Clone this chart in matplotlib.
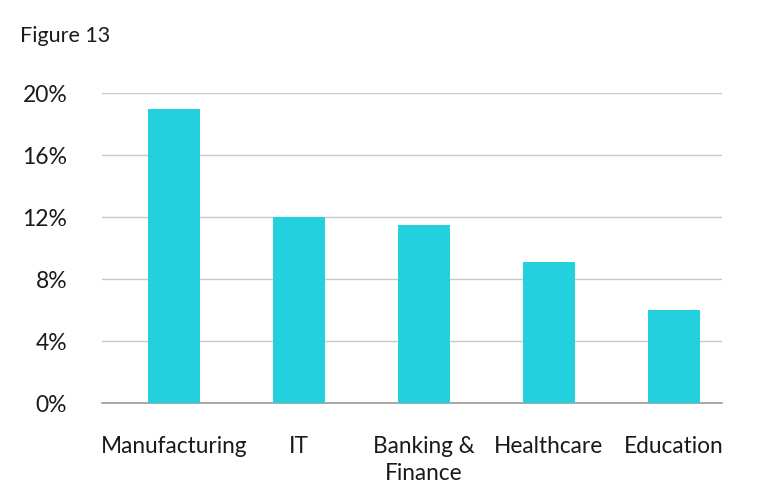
import numpy as np
import matplotlib
matplotlib.use("Agg")
import matplotlib.pyplot as plt

# data
categories = ["Manufacturing", "IT", "Banking &\nFinance", "Healthcare", "Education"]
values = [19.0, 12.0, 11.5, 9.1, 6.0]
yticks = [0, 4, 8, 12, 16, 20]
ytick_labels = ["0%", "4%", "8%", "12%", "16%", "20%"]

plt.rcParams['font.family'] = ['Lato', 'DejaVu Sans']

fig = plt.figure(figsize=(7.6, 5.0), dpi=100)
ax = fig.add_axes([0.1342, 0.194, 0.8158, 0.62])

x = np.arange(len(categories))
ax.bar(x, values, width=0.416, color="#22d0de", zorder=3)

ax.set_xlim(-0.576, 4.384)
ax.set_ylim(0, 20)
ax.set_yticks(yticks)
ax.set_yticklabels(ytick_labels, fontsize=16.5, color="#1a1a1a")
ax.set_xticks(x)
ax.set_xticklabels(categories, fontsize=16.3, color="#1a1a1a", linespacing=1.35)
ax.tick_params(axis="y", length=0, pad=25)
ax.tick_params(axis="x", length=0, pad=24)

ax.grid(axis="y", color="#c8c8c8", linewidth=1, zorder=0)
for s in ["top", "right", "left"]:
    ax.spines[s].set_visible(False)
ax.spines["bottom"].set_color("#9a9a9a")
ax.spines["bottom"].set_linewidth(1.2)

fig.text(20 / 760, 1 - 36 / 500, "Figure 13", fontsize=15.5, color="#1a1a1a",
         va="center", ha="left")

fig.savefig("out.png", dpi=100)
